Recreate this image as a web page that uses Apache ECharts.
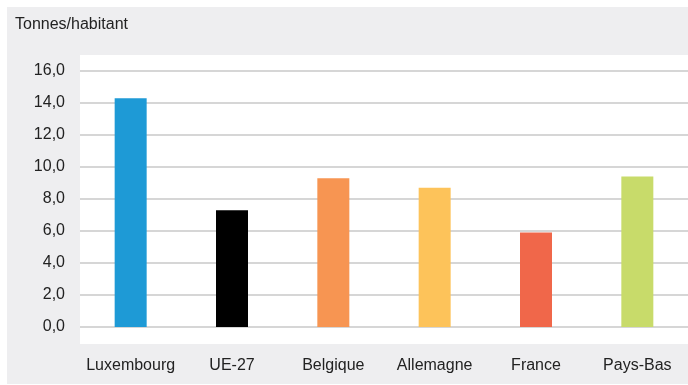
<!DOCTYPE html>
<html>
<head>
<meta charset="utf-8">
<script src="https://cdn.jsdelivr.net/npm/echarts@6/dist/echarts.min.js"></script>
<style>
html,body{margin:0;padding:0;background:#fff;}
#chart{width:688px;height:385px;}
</style>
</head>
<body>
<div id="chart"></div>
<script>
const categories = ['Luxembourg', 'UE-27', 'Belgique', 'Allemagne', 'France', 'Pays-Bas'];
const values = [14.3, 7.3, 9.3, 8.7, 5.9, 9.4];
const barColors = ['#1E9AD6', '#000000', '#F79552', '#FDC35A', '#F0674A', '#C8DB6A'];
const yTicks = [0, 2, 4, 6, 8, 10, 12, 14, 16];
const unitLabel = 'Tonnes/habitant';

const chart = echarts.init(document.getElementById('chart'), null, {renderer: 'canvas'});
const font = '"Liberation Sans", Arial, sans-serif';
chart.setOption({
  animation: false,
  backgroundColor: '#ffffff',
  graphic: [
    {type: 'rect', left: 7, top: 7, shape: {width: 681, height: 377}, style: {fill: '#EEEEF0'}, z: -10, silent: true},
    {type: 'rect', left: 80, top: 55, shape: {width: 608, height: 289}, style: {fill: '#FFFFFF'}, z: -9, silent: true},
    {type: 'text', left: 15, top: 17, style: {text: unitLabel, font: '16px ' + font, fill: '#222'}, z: 5}
  ],
  grid: {left: 80, right: 0, top: 71, bottom: 58, containLabel: false},
  xAxis: {
    type: 'category',
    data: categories,
    axisLine: {show: false},
    axisTick: {show: false},
    axisLabel: {color: '#222', fontSize: 16, fontFamily: font, margin: 31, interval: 0}
  },
  yAxis: {
    type: 'value',
    min: yTicks[0],
    max: yTicks[yTicks.length - 1],
    interval: yTicks[1] - yTicks[0],
    axisLine: {show: false},
    axisTick: {show: false},
    axisLabel: {
      color: '#222', fontSize: 16, fontFamily: font, margin: 15,
      formatter: v => v.toFixed(1).replace('.', ',')
    },
    splitLine: {lineStyle: {color: '#C8C8C8', width: 1.5}}
  },
  series: [{
    type: 'bar',
    barWidth: 32,
    data: values.map((v, i) => ({value: v, itemStyle: {color: barColors[i]}}))
  }]
});
</script>
</body>
</html>
